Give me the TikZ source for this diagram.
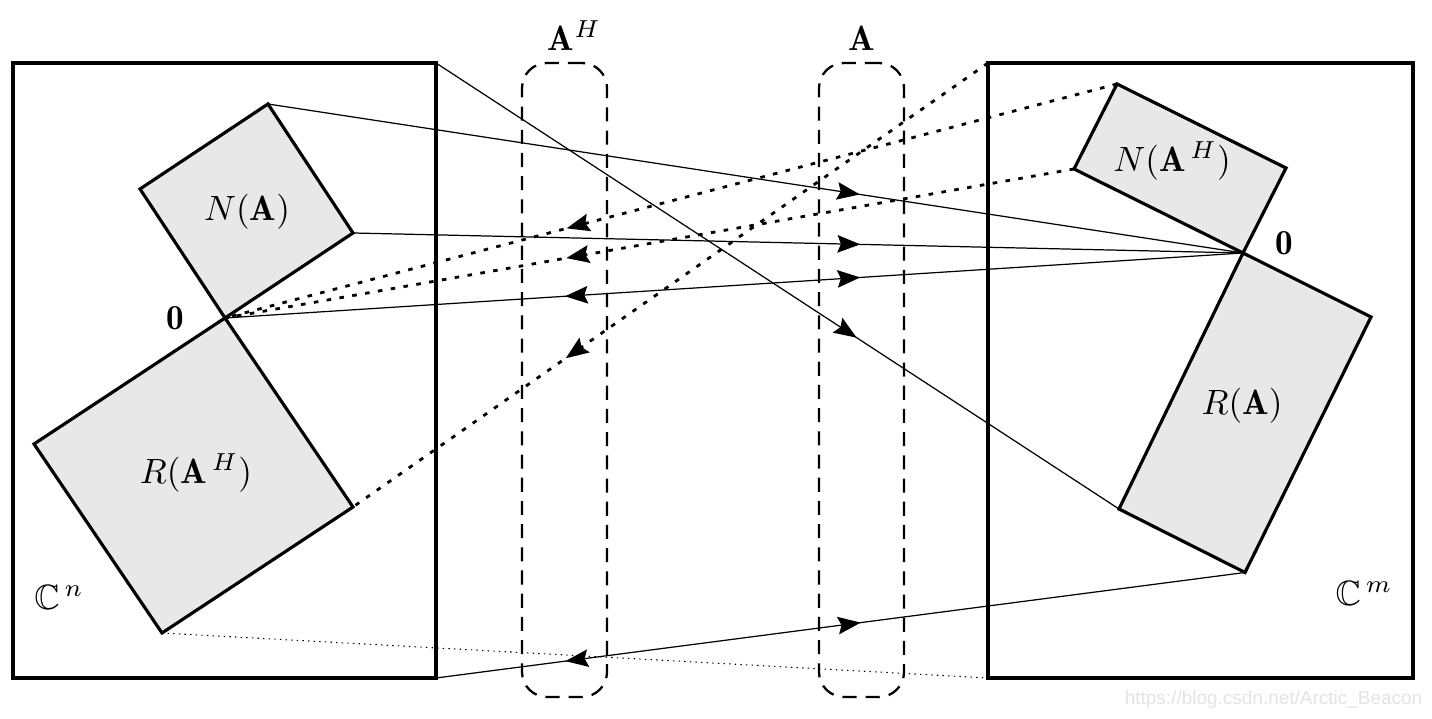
\documentclass[tikz,border=0pt]{standalone}
\usepackage{amsmath,amssymb}
\usepackage{fontspec}
\newfontfamily\urlfont{Liberation Sans}
\usepackage{tikz}
\usetikzlibrary{arrows.meta,decorations.markings,positioning}
\definecolor{regiongray}{gray}{0.91}
\begin{document}
\begin{tikzpicture}[>={Stealth[length=6.5pt,width=5pt,inset=1pt]},line join=miter,
  space/.style={draw,line width=0.9pt,outer sep=0pt,inner sep=0pt},
  region/.style={draw,line width=0.9pt,fill=regiongray},
  mapbox/.style={draw,dash pattern=on 4pt off 2.6pt,line width=0.65pt,rounded corners=0.25cm,
    minimum width=0.85cm,minimum height=6.34cm,inner sep=0pt,outer sep=0pt},
  link/.style={line width=0.35pt},
  dotlink/.style={line width=0.8pt,dash pattern=on 1.3pt off 2.4pt},
  faint/.style={line width=0.3pt,dash pattern=on 0.4pt off 1.2pt},
  fwdat/.style={postaction={decorate,decoration={markings,mark=at position #1 with {\arrow{>}}}}},
  bwdat/.style={postaction={decorate,decoration={markings,mark=at position #1 with {\arrowreversed{>}}}}}]
\useasboundingbox (0,0) rectangle (14.32,7.19);
% the two spaces
\node[space,minimum width=4.23cm,minimum height=6.15cm] (Cn) at (2.245,3.485) {};
\node[space,minimum width=4.25cm,minimum height=6.15cm] (Cm) at (12.005,3.485) {};
% the two maps
\node[mapbox] (mapH) at (5.645,3.39) {};
\node[mapbox] (mapA) at (8.615,3.39) {};
\node[above=0pt of mapH,xshift=1mm] (labH) {$\mathbf{A}^{H}$};
\node[above=0pt of mapA] (labA) {$\mathbf{A}$};
% subspaces of C^n
\coordinate (o1) at (2.25,4.01);
\coordinate (na-r) at (3.53,4.86);
\coordinate (na-t) at (2.68,6.15);
\coordinate (na-l) at (1.40,5.30);
\coordinate (rah-l) at (0.34,2.75);
\coordinate (rah-b) at (1.62,0.86);
\coordinate (rah-r) at (3.53,2.12);
\draw[region] (o1) -- (na-r) -- (na-t) -- (na-l) -- cycle;
\draw[region] (o1) -- (rah-r) -- (rah-b) -- (rah-l) -- cycle;
% subspaces of C^m
\coordinate (o2) at (12.43,4.66);
\coordinate (nah-l) at (10.74,5.50);
\coordinate (nah-t) at (11.17,6.35);
\coordinate (nah-r) at (12.86,5.51);
\coordinate (ra-r) at (13.71,4.02);
\coordinate (ra-b) at (12.45,1.465);
\coordinate (ra-l) at (11.19,2.10);
\draw[region] (o2) -- (nah-r) -- (nah-t) -- (nah-l) -- cycle;
\draw[region] (o2) -- (ra-r) -- (ra-b) -- (ra-l) -- cycle;
% labels
\node (zero1) at (1.75,4.01) {$\mathbf{0}$};
\node (zero2) at (12.84,4.76) {$\mathbf{0}$};
\node (labNA) at (2.47,5.07) {$N(\mathbf{A})$};
\node (labRAH) at (1.96,2.46) {$R(\mathbf{A}^{\,H})$};
\node (labNAH) at (11.72,5.58) {$N(\mathbf{A}^{\,H})$};
\node (labRA) at (12.42,3.13) {$R(\mathbf{A})$};
\node (labCn) at (0.59,1.22) {$\mathbb{C}^{\,n}$};
\node (labCm) at (13.64,1.26) {$\mathbb{C}^{\,m}$};
% mappings
\draw[link,fwdat=0.616] (Cn.north east) -- (ra-l);
\draw[link,fwdat=0.607] (na-t) -- (o2);
\draw[link,fwdat=0.570] (na-r) -- (o2);
\draw[link,fwdat=0.624,bwdat=0.334] (o1) -- (o2);
\draw[link,fwdat=0.525,bwdat=0.160] (Cn.south east) -- (ra-b);
\draw[dotlink,fwdat=0.617] (nah-t) -- (o1);
\draw[dotlink,fwdat=0.598] (nah-l) -- (o1);
\draw[dotlink,fwdat=0.665] (Cm.north west) -- (rah-r);
\draw[faint] (rah-b) -- (Cm.south west);
\node[anchor=east,text=gray!22,font=\urlfont\fontsize{5.4}{6}\selectfont,inner sep=0pt] (url) at (14.23,0.19) {https://blog.csdn.net/Arctic\_Beacon};
\end{tikzpicture}
\end{document}
